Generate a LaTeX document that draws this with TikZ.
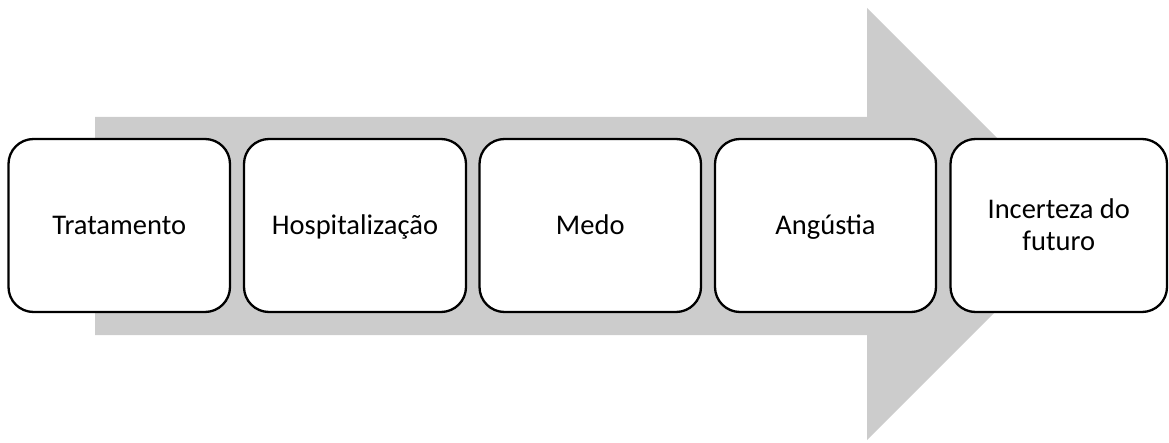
\documentclass[tikz,border=0pt]{standalone}
\usepackage{fontspec}
\setmainfont{Carlito}
\definecolor{arrowgray}{HTML}{CCCCCC}
\begin{document}
\begin{tikzpicture}[x=1pt,y=-1pt,
  stagebox/.style={draw=black, line width=2.3pt, rounded corners=25pt, fill=white},
  stagetext/.style={font=\fontsize{28.5}{32}\selectfont, align=center, text=black, anchor=base, inner sep=0pt}]
\useasboundingbox (0,0) rectangle (1169,443);
% big arrow
\fill[arrowgray] (95,117) -- (867,117) -- (867,8) -- (1083,224) -- (867,440) -- (867,335) -- (95,335) -- cycle;
% boxes
\foreach \i/\l/\r in {1/8.5/230, 2/244/466, 3/479.5/701, 4/715/936, 5/950.5/1167}{
  \draw[stagebox] (\l,139) rectangle (\r,312);
  \coordinate (c\i) at ({(\l+\r)/2},235);
}
\node[stagetext] (t1) at (c1) {Tratamento};
\node[stagetext] (t2) at (c2) {Hospitalização};
\node[stagetext] (t3) at (c3) {Medo};
\node[stagetext] (t4) at (c4) {Angústia};
\node[stagetext] (t5) at ([yshift=-16]c5) {Incerteza do\\futuro};
\end{tikzpicture}
\end{document}
